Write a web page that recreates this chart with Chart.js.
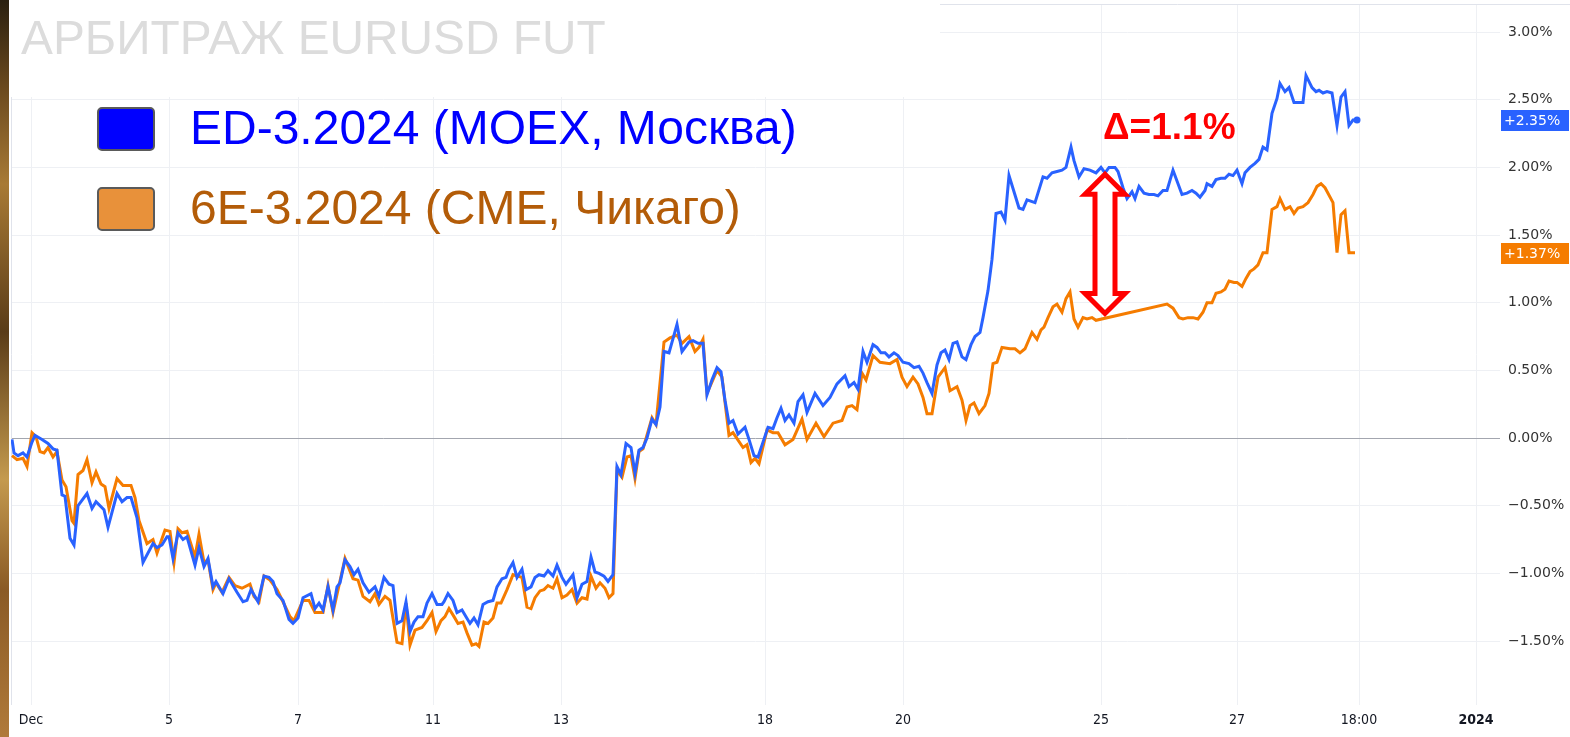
<!DOCTYPE html>
<html>
<head>
<meta charset="utf-8">
<script src="https://cdn.jsdelivr.net/npm/chart.js@4.4.1/dist/chart.umd.min.js"></script>
<style>
  html, body { margin: 0; padding: 0; background: #fff; }
  #wrap { position: relative; width: 1570px; height: 737px; overflow: hidden; background: #fff; }
  #chart { position: absolute; left: 0; top: 0; }
  #strip {
    position: absolute; left: 0; top: 0; width: 9px; height: 737px;
    background: linear-gradient(to bottom, #2a2010 0%, #6b4a1e 12%, #a87a35 25%, #5a3c18 45%, #c49a4e 65%, #8a5a25 80%, #b07a3a 100%);
  }
  .txt { position: absolute; white-space: nowrap; font-family: "Liberation Sans", Arial, sans-serif; line-height: 1; }
  #title { left: 21px; top: 14px; font-size: 47.8px; color: #dcdcdc; }
  .row { left: 190px; font-size: 48px; }
  #row1 { top: 104px; color: #0000ff; }
  #row2 { top: 184px; color: #b35c08; }
  .box { position: absolute; left: 97px; width: 54px; height: 40px; border: 2px solid #5a5a5a; border-radius: 5px; }
  #box1 { top: 107px; background: #0000ff; }
  #box2 { top: 187px; background: #e8913a; }
  #delta { left: 1103px; top: 108px; font-size: 37px; font-weight: bold; color: #ff0000; }
</style>
</head>
<body>
<div id="wrap">
  <canvas id="chart" width="1570" height="737"></canvas>
  <div id="strip"></div>
  <div id="title" class="txt">АРБИТРАЖ EURUSD FUT</div>
  <div id="box1" class="box"></div>
  <div id="row1" class="txt row">ED-3.2024 (MOEX, Москва)</div>
  <div id="box2" class="box"></div>
  <div id="row2" class="txt row">6E-3.2024 (CME, Чикаго)</div>
  <div id="delta" class="txt">Δ=1.1%</div>
</div>
<script>
// bar index on the compressed trading-time axis, change in %
const edBar = [0,0.5,1.5,2.75,3.75,5,5.75,7.5,9,10.25,11.25,12.5,13.25,14.5,15.5,16.5,18.75,20,21,23,24,26.25,27.5,28.75,29.75,31.25,32.75,35.25,36.25,37.5,38.75,39.25,40.25,41.5,42.75,43.75,45.75,46.75,48,49,50.25,51,52.75,54.25,56.25,57.75,58.75,59.75,61.5,63,64.25,65.25,66.25,67.75,69.25,70.25,71.5,72.75,74.75,75.75,76.75,77.75,79,80.25,81.25,82,83.25,84.5,85.5,86.5,87.75,89.25,90.75,91.75,93,94.25,95.25,96.25,97.5,98.5,99.5,100.5,101.5,102.75,103.75,105,106.25,107.5,108,109,110.25,111.25,112.5,113.5,114.5,115.5,116.5,117.75,119,120.25,121.25,122.5,123.5,124.25,125.25,126.25,127.5,128.5,129.75,130.75,131.75,133,134,135.25,136.25,137.5,138.5,140.25,141.25,142.5,143.75,144.75,145.75,146.75,148,149,150.25,151.25,152.25,153.5,154.75,155.75,156.75,157.75,158.75,160,161,162,163,164.25,166.25,167.5,169.25,170.25,171.5,172.75,173.75,175,176.25,177.25,178.25,179.25,180.25,181.5,183.25,184.25,185.5,186.5,187.75,189,190.25,191.25,192.25,193.25,194.25,195.5,196.5,197.75,198.75,200.75,202.75,204.5,206.25,208.25,209.25,210.5,211.5,212.75,213.75,215.25,216.25,217.25,218.25,219.25,220.5,221.5,222.75,224.25,225.5,226.75,227.75,228.75,230,231.25,232.25,233.25,234.25,235.25,236.25,237.5,238.5,239.75,240.75,242,242.75,244,245,246,247.25,248.25,249.25,250.5,251.75,252.75,253.75,255.75,257.75,258.75,260,261.25,262.5,263.5,264.75,265.5,266.75,268,269.5,271,272.25,273.25,274.25,275.75,276.5,277.75,278.75,280,280.75,281.75,283,284.25,285.5,286.5,287.75,288.75,290.25,291.25,292.5,293.75,295,296,297,298.25,298.75,300,301,302.25,303.25,304.25,305.25,306.25,307.5,308.25,309.5,310.75,311.75,312.75,313.75,315,316.25,317,318.25,319.25,320.5,321.75,322.75,323.5,325,326,326.75,327.75,328.75,330,331.25,332.25,333.25,334.25,335.25,336.25];
const edVal = [-0.01,-0.11,-0.13,-0.11,-0.14,-0.03,0.02,-0.01,-0.04,-0.08,-0.09,-0.42,-0.43,-0.74,-0.79,-0.50,-0.41,-0.52,-0.47,-0.53,-0.66,-0.41,-0.47,-0.44,-0.44,-0.59,-0.92,-0.78,-0.81,-0.79,-0.73,-0.73,-0.89,-0.70,-0.75,-0.73,-0.94,-0.81,-0.95,-0.89,-1.10,-1.06,-1.15,-1.04,-1.14,-1.21,-1.20,-1.12,-1.21,-1.02,-1.03,-1.06,-1.15,-1.20,-1.34,-1.37,-1.33,-1.18,-1.15,-1.26,-1.22,-1.27,-1.10,-1.27,-1.10,-1.07,-0.90,-0.95,-1.01,-0.97,-1.07,-1.14,-1.10,-1.17,-1.03,-1.08,-1.09,-1.37,-1.35,-1.21,-1.43,-1.36,-1.32,-1.32,-1.22,-1.15,-1.23,-1.23,-1.21,-1.15,-1.20,-1.29,-1.27,-1.32,-1.37,-1.33,-1.38,-1.23,-1.21,-1.20,-1.10,-1.04,-1.03,-0.97,-0.92,-1.03,-0.97,-1.12,-1.10,-1.03,-1.01,-1.02,-0.98,-1.02,-0.94,-1.03,-1.08,-1.01,-1.18,-1.08,-1.06,-0.88,-0.99,-1.00,-1.02,-1.06,-1.01,-0.21,-0.27,-0.04,-0.07,-0.26,-0.09,-0.07,0.00,0.14,0.10,0.23,0.64,0.63,0.84,0.64,0.71,0.72,0.70,0.70,0.32,0.43,0.52,0.49,0.28,0.11,0.13,0.03,0.08,-0.01,-0.13,-0.14,-0.03,0.08,0.07,0.15,0.22,0.13,0.17,0.11,0.27,0.32,0.19,0.33,0.24,0.30,0.40,0.46,0.38,0.41,0.36,0.64,0.56,0.69,0.67,0.63,0.63,0.60,0.63,0.61,0.56,0.55,0.52,0.53,0.48,0.41,0.33,0.54,0.63,0.65,0.58,0.70,0.71,0.60,0.58,0.69,0.75,0.78,0.89,1.09,1.32,1.66,1.67,1.61,1.94,1.82,1.70,1.69,1.76,1.74,1.93,1.92,1.96,1.97,1.98,2.00,2.15,2.05,1.93,1.99,1.98,1.96,2.00,1.96,2.00,2.00,1.97,1.85,1.77,1.82,1.77,1.86,1.81,1.80,1.80,1.79,1.83,1.83,1.98,1.90,1.80,1.81,1.83,1.81,1.78,1.83,1.88,1.86,1.91,1.92,1.92,1.95,1.94,1.98,1.88,1.96,2.00,2.03,2.06,2.15,2.13,2.40,2.51,2.62,2.56,2.59,2.48,2.48,2.48,2.68,2.59,2.56,2.57,2.55,2.56,2.55,2.31,2.52,2.56,2.31,2.35,2.35];

const e6Bar = [0,1.25,2.75,3.75,5,6,7,8,9,10.25,11.25,12.5,13.5,15,15.5,16.5,17.75,18.75,20,21,22.25,23.25,24.25,26.25,27.75,29.75,30.75,31.75,33.75,35.25,36.25,38.25,39.5,40.5,41.5,42.5,43.75,45.75,46.75,48,49,50.25,51,52.5,54.25,55.75,57.5,59.5,60.5,61.75,63,64.5,66.25,67.75,69.5,70.5,72.75,74.25,75.75,77.75,79,80.25,81.75,83.25,85.25,86.5,87.75,89.5,90.75,91.75,93.25,94.5,96.25,97.5,98.5,99.5,100.75,102.5,103.75,105,106,107.25,108.25,109.25,110.5,111.5,112.75,113.75,115,116,116.75,118,119,120.25,121.25,122.25,123.75,125.25,127.5,128.75,129.75,130.75,132,133,134,135.25,136.25,137.5,138.75,140,141.25,142.5,143.75,144.75,146,147,148.25,149.25,150.25,151.25,152.5,153.75,154.75,155.75,156.75,157.75,160,161,163,164.5,166.25,167.5,169.25,170.75,171.75,172.75,173.75,176.25,177.5,179.25,180.25,182.75,183.75,184.75,185.75,186.75,188.75,190.25,191.5,193.25,195.25,197.5,198.75,201,203,205.25,207.5,208.75,210,211.25,212.5,213.5,215.25,217,219.5,221.25,222.5,223.75,225.25,226.5,227.75,228.75,230,231.5,233.25,234.5,236.25,237.5,238.5,239.5,240.5,241.75,243.25,244.25,245.25,246.25,247.5,249.5,250.75,252,253.25,255,256.25,257.25,258,259,260.25,261.25,262.5,263.5,264.5,265.5,266.5,267.75,268.75,270,271,288.75,290.25,291.75,292.75,294,295.25,296.5,297.75,298.75,300,301,302.25,303.25,304.25,305.5,306.25,307.5,308.5,309.5,310.5,311.5,312.75,313.75,315,316.25,317,318.25,319.5,320.5,321.5,322.75,324,325.25,326.25,327.25,328.25,330.25,331.25,332.25,333.25,334.25,335.75];
const e6Val = [-0.13,-0.16,-0.15,-0.21,0.04,0.01,-0.10,-0.11,-0.07,-0.14,-0.10,-0.31,-0.36,-0.61,-0.63,-0.27,-0.24,-0.16,-0.33,-0.25,-0.34,-0.36,-0.52,-0.30,-0.35,-0.35,-0.44,-0.61,-0.78,-0.75,-0.85,-0.68,-0.69,-0.92,-0.67,-0.70,-0.69,-0.88,-0.71,-0.92,-0.90,-1.12,-1.07,-1.14,-1.03,-1.09,-1.11,-1.08,-1.17,-1.21,-1.02,-1.05,-1.12,-1.21,-1.32,-1.35,-1.20,-1.20,-1.29,-1.29,-1.09,-1.29,-1.09,-0.89,-1.04,-1.05,-1.17,-1.21,-1.15,-1.23,-1.17,-1.20,-1.51,-1.52,-1.22,-1.53,-1.42,-1.40,-1.35,-1.29,-1.43,-1.35,-1.32,-1.26,-1.32,-1.37,-1.36,-1.44,-1.53,-1.52,-1.54,-1.36,-1.37,-1.33,-1.22,-1.22,-1.12,-1.01,-1.03,-1.25,-1.26,-1.18,-1.13,-1.12,-1.09,-1.11,-1.04,-1.18,-1.16,-1.12,-1.22,-1.18,-1.19,-1.02,-1.11,-1.07,-1.11,-1.18,-1.15,-0.24,-0.29,-0.14,-0.13,-0.30,-0.10,-0.08,0.15,0.10,0.71,0.74,0.76,0.70,0.75,0.64,0.67,0.73,0.33,0.50,0.45,0.02,0.04,-0.07,-0.05,-0.18,-0.15,-0.19,0.06,0.04,0.04,-0.05,-0.01,0.14,-0.01,0.11,0.01,0.11,0.13,0.23,0.24,0.21,0.48,0.43,0.61,0.56,0.55,0.58,0.45,0.38,0.45,0.40,0.30,0.18,0.18,0.45,0.52,0.35,0.38,0.28,0.13,0.24,0.26,0.18,0.24,0.33,0.55,0.56,0.67,0.66,0.66,0.63,0.66,0.78,0.73,0.80,0.82,0.89,0.97,0.99,0.93,1.03,1.08,0.88,0.82,0.89,0.88,0.89,0.87,0.99,0.96,0.89,0.88,0.89,0.89,0.88,0.93,1.00,1.00,1.07,1.08,1.10,1.16,1.15,1.15,1.12,1.18,1.23,1.25,1.28,1.37,1.37,1.69,1.71,1.77,1.69,1.71,1.66,1.70,1.71,1.74,1.80,1.86,1.88,1.85,1.74,1.37,1.65,1.68,1.37,1.37];

const tickBars = [4.75, 39.25, 71.5, 105.25, 137.25, 188.25, 222.75, 272.25, 306.25, 336.75, 366];
const tickLabels = ["Dec", "5", "7", "11", "13", "18", "20", "25", "27", "18:00", "2024"];
const yTicks = [-1.5, -1, -0.5, 0, 0.5, 1, 1.5, 2, 2.5, 3];

// gap annotation: bar position and the two ends in %
const arrowBar = 273.25;
const arrowEnds = [1.95, 0.92];

const BLUE = "#2962ff";
const ORANGE = "#f57c00";

const fmtPct = (v) => (v < 0 ? "\u2212" : "") + Math.abs(v).toFixed(2) + "%";

const paneFrame = {
  id: "paneFrame",
  beforeDatasetsDraw(chart) {
    const { ctx, chartArea } = chart;
    ctx.save();
    // left border of the pane and the top line
    ctx.strokeStyle = "#e0e3eb";
    ctx.lineWidth = 1;
    ctx.beginPath();
    ctx.moveTo(chartArea.left + 0.5, chartArea.top);
    ctx.lineTo(chartArea.left + 0.5, chartArea.bottom);
    ctx.moveTo(0, chartArea.top + 0.5);
    ctx.lineTo(chart.width, chartArea.top + 0.5);
    ctx.stroke();
    // white title block over the upper left part
    ctx.fillStyle = "#ffffff";
    ctx.fillRect(0, 0, 940, 97);
    ctx.restore();
  }
};

const gapArrow = {
  id: "gapArrow",
  afterDatasetsDraw(chart) {
    const { ctx, scales } = chart;
    const cx = scales.x.getPixelForValue(arrowBar);
    const yt = scales.y.getPixelForValue(arrowEnds[0]);
    const yb = scales.y.getPixelForValue(arrowEnds[1]);
    const head = 20, hw = 20, sw = 10;
    ctx.save();
    ctx.beginPath();
    ctx.moveTo(cx, yt);
    ctx.lineTo(cx + hw, yt + head);
    ctx.lineTo(cx + sw, yt + head);
    ctx.lineTo(cx + sw, yb - head);
    ctx.lineTo(cx + hw, yb - head);
    ctx.lineTo(cx, yb);
    ctx.lineTo(cx - hw, yb - head);
    ctx.lineTo(cx - sw, yb - head);
    ctx.lineTo(cx - sw, yt + head);
    ctx.lineTo(cx - hw, yt + head);
    ctx.closePath();
    ctx.fillStyle = "#ffffff";
    ctx.fill();
    ctx.strokeStyle = "#ff0000";
    ctx.lineWidth = 5;
    ctx.lineJoin = "miter";
    ctx.stroke();
    ctx.restore();
  }
};

const lastValueTags = {
  id: "lastValueTags",
  afterDraw(chart) {
    const { ctx, scales, chartArea } = chart;
    ctx.save();
    chart.data.datasets.forEach((ds) => {
      const last = ds.data[ds.data.length - 1].y;
      const y = Math.round(scales.y.getPixelForValue(last));
      ctx.fillStyle = ds.borderColor;
      ctx.fillRect(chartArea.right + 1, y - 10, chart.width - chartArea.right - 2, 21);
      ctx.fillStyle = "#ffffff";
      ctx.font = "14px 'DejaVu Sans', sans-serif";
      ctx.textBaseline = "middle";
      ctx.textAlign = "left";
      ctx.fillText("+" + last.toFixed(2) + "%", chartArea.right + 4, y + 1);
    });
    ctx.restore();
  }
};

new Chart(document.getElementById("chart"), {
  type: "line",
  data: {
    datasets: [
      {
        label: "ED-3.2024 (MOEX, Москва)",
        data: edBar.map((x, i) => ({ x, y: edVal[i] })),
        borderColor: BLUE,
        backgroundColor: BLUE,
        borderWidth: 3,
        pointRadius: (c) => (c.dataIndex === edVal.length - 1 ? 3.5 : 0),
        pointBorderWidth: 0,
        tension: 0
      },
      {
        label: "6E-3.2024 (CME, Чикаго)",
        data: e6Bar.map((x, i) => ({ x, y: e6Val[i] })),
        borderColor: ORANGE,
        backgroundColor: ORANGE,
        borderWidth: 3,
        pointRadius: 0,
        tension: 0
      }
    ]
  },
  options: {
    responsive: false,
    animation: false,
    layout: { padding: { left: 11, top: 4, right: 0, bottom: 0 } },
    plugins: { legend: { display: false }, tooltip: { enabled: false } },
    scales: {
      x: {
        type: "linear",
        min: -0.25,
        max: 372,
        afterBuildTicks: (s) => { s.ticks = tickBars.map((v) => ({ value: v })); },
        afterFit: (s) => { s.height = 32; s.paddingLeft = 0; s.paddingRight = 0; },
        ticks: {
          autoSkip: false,
          maxRotation: 0,
          padding: 7,
          color: "#131722",
          font: (c) => ({
            family: "'DejaVu Sans Condensed', 'DejaVu Sans', sans-serif",
            size: 14,
            weight: c.index === tickLabels.length - 1 ? "bold" : "normal"
          }),
          callback: (v, i) => tickLabels[i]
        },
        grid: { color: "#eef0f4", lineWidth: 1, drawTicks: false },
        border: { display: false }
      },
      y: {
        position: "right",
        min: -1.973,
        max: 3.208,
        afterBuildTicks: (s) => { s.ticks = yTicks.map((v) => ({ value: v })); },
        afterFit: (s) => { s.width = 70; s.paddingTop = 0; s.paddingBottom = 0; },
        ticks: {
          padding: 8,
          color: "#333333",
          font: { family: "'DejaVu Sans', sans-serif", size: 14 },
          callback: (v) => fmtPct(v)
        },
        grid: {
          color: (c) => (c.tick && c.tick.value === 0 ? "#a3a6af" : "#eef0f4"),
          lineWidth: 1,
          drawTicks: false
        },
        border: { display: false }
      }
    }
  },
  plugins: [paneFrame, gapArrow, lastValueTags]
});
</script>
</body>
</html>
